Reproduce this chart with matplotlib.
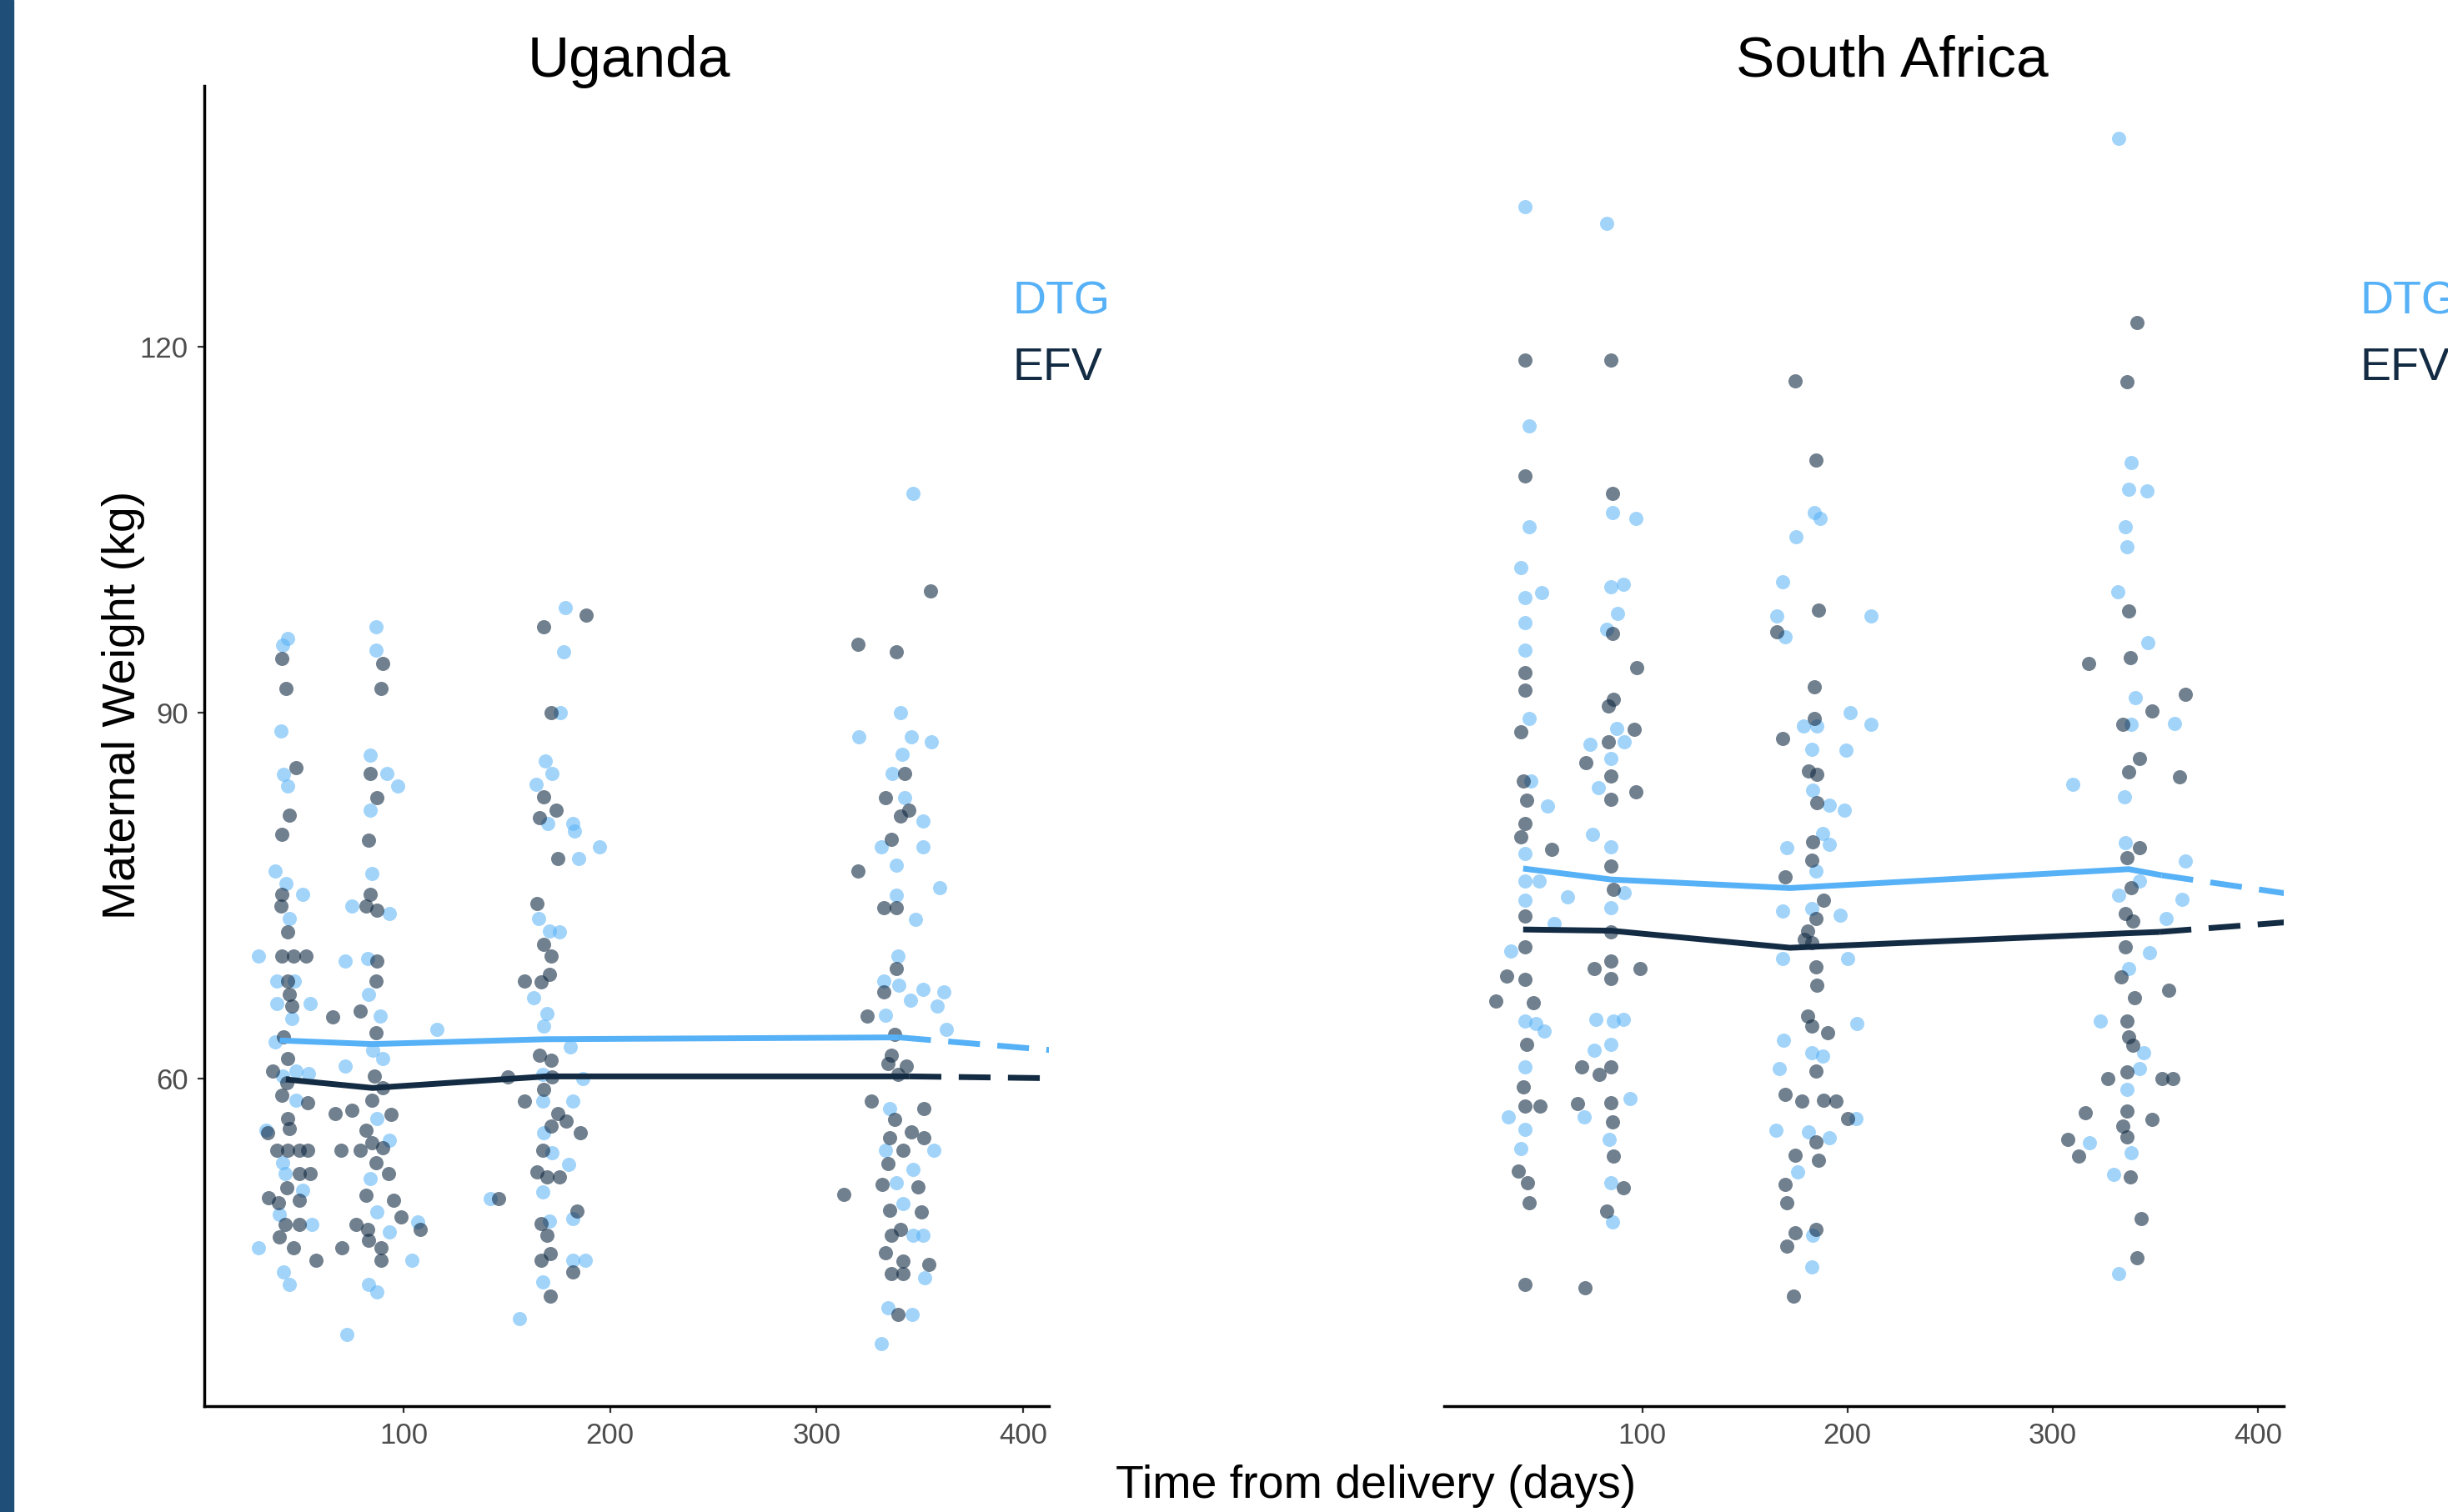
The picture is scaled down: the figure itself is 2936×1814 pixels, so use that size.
import numpy as np
import matplotlib.pyplot as plt
from matplotlib.patches import Rectangle

DTG_COLOR = '#56B1F7'
EFV_COLOR = '#132B43'

# scatter data: (days from delivery, maternal weight kg)
uga_dtg = [
    (44, 96.1), (41.3, 95.5), (40.7, 88.5), (42, 84.9), (44, 84), (38, 77), (43, 76), (51, 75.1),
    (44.7, 73.1), (29.9, 70), (38.6, 68), (47, 68), (38.6, 66.1), (54.8, 66.1), (46, 64.9), (38, 63),
    (41.3, 60.2), (48, 60.6), (54, 60.4), (71.7, 61), (48, 58.2), (33.3, 55.7), (41.3, 53.1),
    (42.7, 52.2), (51, 50.8), (40, 48.8), (55.5, 48), (29.9, 46.1), (42, 44.1), (44.7, 43.1),
    (71.7, 69.6), (72.4, 39), (75, 74.1), (116, 64),
    (86.5, 97), (86.5, 95.1), (83.8, 86.5), (92, 85), (97.3, 84), (83.8, 82), (84.5, 76.8), (93, 73.5),
    (82.5, 69.8), (83, 66.9), (88.6, 65.1), (85.2, 62.3), (89.9, 61.6), (87.2, 56.7), (93.3, 54.9),
    (83.8, 51.8), (87.2, 49), (93.3, 47.4), (104, 45.1), (83, 43.1), (87.2, 42.5), (106.8, 48.2),
    (178.2, 98.6), (177.5, 95), (176, 90), (168.8, 86), (172, 85), (164, 84.1), (170, 80.9), (182, 80.9),
    (182.6, 80.3), (194.8, 79), (184.8, 78), (165.4, 73.1), (170.8, 72.1), (175.5, 72), (163, 66.6),
    (169.5, 65.3), (168, 64.3), (180.6, 62.6), (167.4, 60.3), (187, 60), (167.4, 58.1), (182, 58.1),
    (168, 55.5), (172, 53.9), (180, 52.9), (167.4, 50.7), (142, 50.1), (170.8, 48.3), (182, 48.5),
    (182, 45.1), (188, 45.1), (167.4, 43.3), (156, 40.3),
    (346.8, 108), (340.8, 90), (320.5, 88), (346, 88), (355.6, 87.6), (341.5, 86.6), (336.7, 85),
    (342.8, 83), (351.5, 81.1), (331.3, 79), (351.5, 79), (338.8, 77.5), (359.6, 75.6), (338.8, 75),
    (348, 73), (339.5, 70), (332.6, 68), (340, 67.6), (345.4, 66.4), (351.5, 67.3), (361.7, 67.1),
    (358.3, 65.9), (333.3, 65.2), (363, 64), (335.4, 57.5), (333.3, 54.1), (356.9, 54.1), (346.7, 52.5),
    (338.8, 51.4), (342, 49.7), (346.7, 47.1), (351.5, 47.1), (352.4, 43.6), (334.7, 41.2),
    (346.2, 40.6), (331.3, 38.2),
]
uga_efv = [
    (41, 94.4), (43, 92), (48, 85.5), (44.7, 81.6), (41, 80), (41, 75.1), (40.7, 74.1), (44, 72),
    (41, 70), (46.7, 70), (52.8, 70), (44, 68), (44.7, 66.9), (46, 65.9), (65.6, 65), (42, 63.4),
    (44, 61.6), (36.6, 60.6), (43.4, 59.6), (41, 58.6), (53.5, 58), (34, 55.5), (44, 56.7), (44.7, 55.9),
    (38.6, 54.1), (44, 54.1), (49.4, 54.1), (53.5, 54.1), (49.4, 52.2), (54.8, 52.2), (43.4, 51),
    (34.6, 50.2), (39.3, 49.8), (49.4, 50), (42.7, 48), (49.4, 48), (40, 47), (46.7, 46.1), (57.5, 45.1),
    (67, 57.1), (75, 57.4), (69.7, 54.1), (77, 48), (70.3, 46.1), (79, 65.5),
    (89.9, 94), (89.2, 92), (83.8, 85), (87, 83), (83, 79.5), (83.8, 75.1), (81.8, 74.1), (87.2, 73.8),
    (87.2, 69.6), (86.5, 68), (86.5, 63.7), (85.9, 60.2), (89.9, 59.2), (84.5, 58.2), (94, 57),
    (81.8, 55.7), (84.5, 54.7), (89.9, 54.3), (79, 54.1), (86.5, 53.1), (92.6, 52.2), (81.8, 50.4),
    (95.2, 50), (98.6, 48.6), (108, 47.6), (82.5, 47.6), (83, 46.7), (89.2, 46.1), (89.2, 45.1),
    (188.3, 98), (168, 97), (171.5, 90), (168, 83.1), (174, 82), (166, 81.4), (174.6, 78), (164.7, 74.3),
    (168, 71), (171.5, 70), (170.8, 68.5), (158.7, 68), (166.8, 67.9), (166, 61.9), (171.5, 61.5),
    (150.4, 60.1), (172, 60.1), (168, 59.1), (158.7, 58.1), (174.6, 57.1), (178.7, 56.5), (171.5, 56.1),
    (185.5, 55.5), (167.4, 54.1), (164.7, 52.3), (169.5, 51.9), (175.5, 51.9), (146, 50.1),
    (166.8, 48.1), (184, 49.1), (169.5, 47.1), (171, 45.6), (166.8, 45.1), (182, 44.1), (171, 42.1),
    (355, 100), (320, 95.6), (338.8, 95), (342.8, 85), (333.3, 83), (340.8, 81.5), (344.8, 82),
    (336, 79.6), (320, 77), (332.6, 74), (338.8, 74), (338.8, 69), (332.6, 67.1), (324.5, 65.1),
    (338, 63.6), (336, 61.9), (334.7, 61.2), (343.5, 61), (339.5, 60.3), (326.6, 58.1), (338, 56.6),
    (352, 57.5), (346, 55.6), (352, 55.1), (335.4, 55.1), (342, 54.1), (334.7, 53), (331.9, 51.3),
    (349.3, 51.1), (313, 50.5), (335.4, 49.2), (350.6, 49), (336, 47.1), (340.8, 47.6), (333.3, 45.7),
    (342, 45), (354.4, 44.7), (336, 44), (342, 44), (339.5, 40.6),
]
sa_dtg = [
    (42.9, 131.5), (44.9, 113.5), (44.9, 105.2), (40.9, 101.9), (42.9, 99.4), (51, 99.8), (42.9, 97.4),
    (42.9, 95.1), (44.9, 89.5), (45.6, 84.4), (53.7, 82.3), (42.9, 78.4), (42.9, 76.2), (49.6, 76.2),
    (63.8, 74.9), (42.9, 74.6), (57, 72.7), (36.1, 70.4), (42.9, 64.7), (48.3, 64.5), (52.3, 63.9),
    (42.9, 60.9), (34.8, 56.8), (42.9, 55.8), (40.9, 54.2),
    (82.7, 130.1), (85.4, 106.4), (96.8, 105.9), (84.7, 100.3), (90.8, 100.5), (88.1, 98.1),
    (82.7, 96.8), (87.4, 88.7), (74.6, 87.4), (84.7, 86.2), (91.4, 87.6), (78.6, 83.8), (75.9, 80),
    (84.7, 79), (91.4, 75.2), (84.7, 74), (77.3, 64.8), (86.1, 64.7), (90.8, 64.8), (84.7, 62.8),
    (76.6, 62.3), (94.1, 58.3), (71.9, 56.8), (84, 55), (84.7, 51.4), (85.4, 48.2),
    (183.8, 106.4), (186.5, 105.9), (175, 104.4), (168.3, 100.7), (211.5, 97.9), (165.6, 97.9),
    (169.7, 96.2), (178.4, 88.9), (185.1, 88.9), (201.3, 90), (211.5, 89), (182.5, 87), (199.3, 86.9),
    (183.1, 83.6), (191.2, 82.4), (198.6, 82), (187.8, 80.1), (191.2, 79.2), (170.4, 78.9), (184.5, 77),
    (182.5, 73.9), (168.3, 73.7), (196.6, 73.4), (168.3, 69.8), (200, 69.8), (204.6, 64.5), (169, 63.1),
    (182.5, 62.1), (187.8, 61.8), (166.9, 60.8), (204, 56.7), (165, 55.7), (180.8, 55.6), (191.2, 55.1),
    (175.7, 52.3), (183.1, 47.1), (182.5, 44.5),
    (332.2, 137.1), (338.2, 110.5), (336.9, 108.3), (345.7, 108.2), (335.5, 105.2), (336.2, 103.6),
    (331.5, 99.9), (346.4, 95.7), (340.3, 91.2), (359.1, 89.1), (338.2, 89), (309.9, 84.1),
    (334.9, 83.1), (335.5, 79.3), (364.5, 77.8), (332.2, 75), (342.3, 76.2), (363.1, 74.7),
    (355.1, 73.1), (347.1, 70.3), (336.9, 69), (323.1, 64.7), (344.3, 62.1), (342.3, 60.8),
    (336.2, 59.1), (318, 54.7), (338.2, 53.9), (329.5, 52.1), (332.2, 44),
]
sa_efv = [
    (42.9, 118.9), (42.9, 109.4), (42.9, 93.3), (42.9, 91.8), (40.9, 88.4), (42.2, 84.4), (43.6, 82.8),
    (42.9, 80.9), (40.9, 79.8), (55.7, 78.8), (42.9, 73.3), (42.9, 70.8), (34.1, 68.4), (42.9, 68.1),
    (28.7, 66.3), (46.9, 66.2), (43.6, 62.8), (42.2, 59.3), (50.3, 57.7), (42.9, 57.7), (39.5, 52.4),
    (44.2, 51.4), (44.9, 49.8), (42.9, 43.1),
    (84.7, 118.9), (85.4, 108), (85.4, 96.5), (97.5, 93.7), (86.1, 91.1), (83.4, 90.5), (96.1, 88.6),
    (83.4, 87.6), (72.6, 85.9), (84.7, 84.8), (84.7, 82.9), (96.8, 83.5), (84.7, 77.4), (86.1, 75.5),
    (84.7, 72), (84.7, 69.6), (76.6, 69), (98.9, 69), (84.7, 68.2), (84.7, 60.9), (70.5, 60.9),
    (79, 60.3), (84.7, 58), (68.5, 57.9), (85.4, 56.4), (86.1, 53.6), (90.8, 51), (82.7, 49.1), (72, 42.8),
    (174.4, 117.2), (184.5, 110.7), (186, 98.4), (165.6, 96.6), (183.8, 92.1), (183.8, 89.5),
    (168.3, 87.9), (181.1, 85.2), (185.1, 84.9), (185.1, 82.6), (183.1, 79.4), (182.5, 77.9),
    (169.7, 76.5), (188.5, 74.6), (184.5, 73.1), (180.4, 72.1), (179.1, 71.4), (182.5, 71.1),
    (184.5, 69.1), (185.1, 67.6), (180.4, 65.1), (182.5, 64.3), (190.5, 63.7), (184.5, 60.6),
    (169.7, 58.7), (177.8, 58.1), (188.5, 58.2), (194.5, 58.1), (200, 56.7), (184.5, 54.8),
    (174.4, 53.7), (185.8, 53.3), (169.7, 51.3), (170.4, 49.8), (174.4, 47.3), (184.5, 47.6),
    (170.4, 46.2), (173.7, 42.1),
    (340.9, 122), (336.2, 117.1), (336.9, 98.3), (317.3, 94), (337.6, 94.5), (364.5, 91.5),
    (348.4, 90.1), (334.2, 89), (342.3, 86.2), (336.9, 85.1), (361.8, 84.7), (342.3, 78.9),
    (336.2, 78.1), (338.2, 75.6), (335.5, 73.5), (338.9, 72.9), (335.5, 70.8), (333.5, 68.3),
    (339.6, 66.6), (356.4, 67.2), (336.2, 64.7), (336.9, 63.4), (338.9, 62.7), (336.2, 60.5),
    (326.8, 60), (353.1, 60), (358.4, 60), (315.9, 57.2), (336.2, 57.3), (348.4, 56.6), (334.2, 56.1),
    (307.2, 55), (336.2, 55.2), (312.6, 53.6), (337.6, 51.9), (343, 48.5), (340.9, 45.3),
]

# mean trajectories (solid) and projection (dashed)
uga_dtg_mean_day = [40, 85, 169, 340]
uga_dtg_mean_wt = [63.1, 62.8, 63.2, 63.35]
uga_dtg_proj_day = [340, 414]
uga_dtg_proj_wt = [63.35, 62.3]
uga_efv_mean_day = [43, 85, 169, 345]
uga_efv_mean_wt = [59.9, 59.2, 60.15, 60.15]
uga_efv_proj_day = [345, 414]
uga_efv_proj_wt = [60.15, 60.0]

sa_dtg_mean_day = [42, 85, 172, 337, 353]
sa_dtg_mean_wt = [77.2, 76.3, 75.6, 77.15, 76.65]
sa_dtg_proj_day = [353, 414]
sa_dtg_proj_wt = [76.65, 75.15]
sa_efv_mean_day = [42, 85, 172, 337, 352]
sa_efv_mean_wt = [72.2, 72.1, 70.7, 71.9, 72.0]
sa_efv_proj_day = [352, 414]
sa_efv_proj_wt = [72.0, 72.8]

x_ticks = [100, 200, 300, 400]
y_ticks = [60, 90, 120]

plt.rcParams['font.family'] = ['Liberation Sans', 'DejaVu Sans']

fig = plt.figure(figsize=(29.36, 18.14), dpi=100)
fig.patches.append(Rectangle((0, 0), 16 / 2936, 1, transform=fig.transFigure,
                             color='#1F4E79', zorder=0))

ax1 = fig.add_axes([245 / 2936, 0.070, (1258 - 245) / 2936, 0.9432 - 0.070])
ax2 = fig.add_axes([1732 / 2936, 0.070, (2739 - 1732) / 2936, 0.9432 - 0.070])

panels = [
    (ax1, uga_dtg, uga_efv,
     (uga_dtg_mean_day, uga_dtg_mean_wt, uga_dtg_proj_day, uga_dtg_proj_wt),
     (uga_efv_mean_day, uga_efv_mean_wt, uga_efv_proj_day, uga_efv_proj_wt)),
    (ax2, sa_dtg, sa_efv,
     (sa_dtg_mean_day, sa_dtg_mean_wt, sa_dtg_proj_day, sa_dtg_proj_wt),
     (sa_efv_mean_day, sa_efv_mean_wt, sa_efv_proj_day, sa_efv_proj_wt)),
]

for ax, dtg, efv, dtg_line, efv_line in panels:
    dtg = np.array(dtg)
    efv = np.array(efv)
    ax.scatter(dtg[:, 0], dtg[:, 1], s=150, color=DTG_COLOR, alpha=0.55, linewidths=0, zorder=2)
    ax.scatter(efv[:, 0], efv[:, 1], s=150, color=EFV_COLOR, alpha=0.6, linewidths=0, zorder=2)
    for line, col in [(dtg_line, DTG_COLOR), (efv_line, EFV_COLOR)]:
        ax.plot(line[0], line[1], color=col, lw=5, solid_capstyle='butt', zorder=3)
        ax.plot(line[2], line[3], color=col, lw=5, linestyle=(0, (5.5, 3)), zorder=3)
    ax.set_xlim(3.5, 412.5)
    ax.set_ylim(33.1, 141.4)
    ax.set_xticks(x_ticks)
    ax.set_yticks(y_ticks)
    for side in ['top', 'right']:
        ax.spines[side].set_visible(False)
    ax.spines['bottom'].set_linewidth(2.5)
    ax.spines['left'].set_linewidth(2.5)
    ax.tick_params(labelsize=25, labelcolor='#4D4D4D', color='#333333',
                   length=6, width=1.6, pad=8)
    ax.set_facecolor('none')

ax2.spines['left'].set_visible(False)
ax2.tick_params(axis='y', left=False, labelleft=False)

fig.text(0.257, 0.9493, 'Uganda', fontsize=50, ha='center', va='baseline')
fig.text(0.7728, 0.9493, 'South Africa', fontsize=50, ha='center', va='baseline')

# direct labels; the right-hand pair runs off the figure edge as in the original
for x in [0.4138, 0.9639]:
    fig.text(x, 0.7927, 'DTG', fontsize=40, color=DTG_COLOR, ha='left', va='baseline')
    fig.text(x, 0.7486, 'EFV', fontsize=40, color=EFV_COLOR, ha='left', va='baseline')

fig.text(0.562, 0.0094, 'Time from delivery (days)', fontsize=40, ha='center', va='baseline')
fig.text(0.0552, 0.5336, 'Maternal Weight (kg)', fontsize=40, ha='center', va='baseline',
         rotation=90, rotation_mode='anchor')

fig.savefig('out.png', dpi=100)
